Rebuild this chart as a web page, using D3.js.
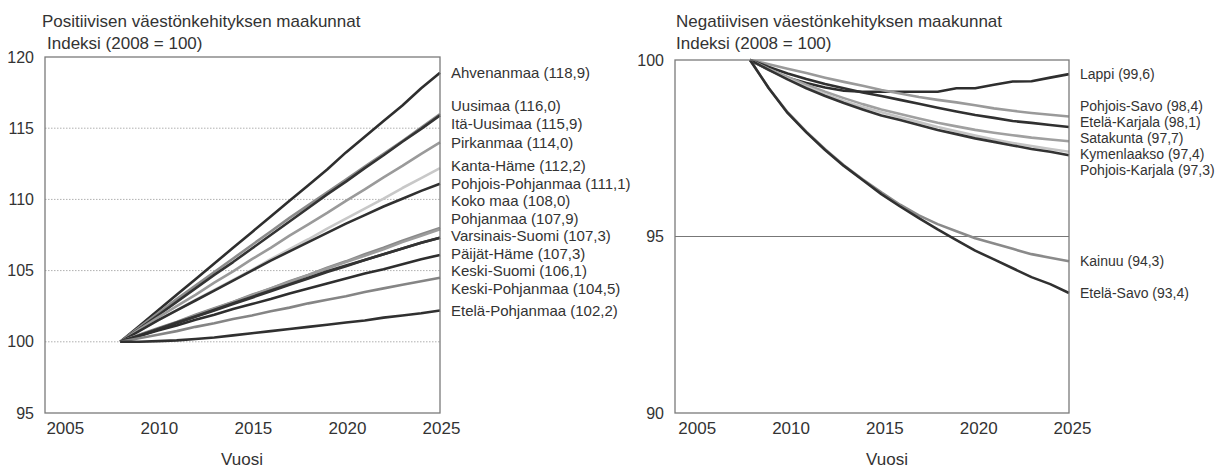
<!DOCTYPE html>
<meta charset="utf-8">
<style>
body { margin: 0; background: #fff; }
svg text { font-family: "Liberation Sans", Arial, sans-serif; fill: #333; }
</style>
<body>
<script src="https://cdn.jsdelivr.net/npm/d3@7"></script>
<script>
// years on the x axis
var years = [2008, 2009, 2010, 2011, 2012, 2013, 2014, 2015, 2016, 2017, 2018, 2019, 2020, 2021, 2022, 2023, 2024, 2025];
var xTicks = [2005, 2010, 2015, 2020, 2025];

// positive panel
var posNames = ["Ahvenanmaa", "Uusimaa", "Itä-Uusimaa", "Pirkanmaa", "Kanta-Häme", "Pohjois-Pohjanmaa",
  "Koko maa", "Pohjanmaa", "Varsinais-Suomi", "Päijät-Häme", "Keski-Suomi", "Keski-Pohjanmaa", "Etelä-Pohjanmaa"];
var ahvenanmaa = [100, 101.1, 102.2, 103.3, 104.4, 105.5, 106.6, 107.7, 108.8, 109.9, 111.0, 112.1, 113.3, 114.4, 115.5, 116.6, 117.8, 118.9];
var uusimaa = [100, 101.0, 102.0, 103.0, 103.95, 104.9, 105.85, 106.8, 107.75, 108.7, 109.6, 110.5, 111.4, 112.3, 113.2, 114.1, 115.05, 116.0];
var itaUusimaa = [100, 100.9, 101.85, 102.8, 103.75, 104.7, 105.6, 106.55, 107.5, 108.45, 109.4, 110.35, 111.25, 112.2, 113.1, 114.05, 114.95, 115.9];
var pirkanmaa = [100, 100.85, 101.7, 102.5, 103.3, 104.15, 104.95, 105.8, 106.6, 107.45, 108.25, 109.05, 109.9, 110.7, 111.55, 112.35, 113.2, 114.0];
var kantaHame = [100, 100.75, 101.5, 102.2, 102.95, 103.65, 104.35, 105.05, 105.8, 106.5, 107.2, 107.95, 108.65, 109.35, 110.05, 110.8, 111.5, 112.2];
var pohjoisPohjanmaa = [100, 100.75, 101.5, 102.2, 102.9, 103.6, 104.3, 105.0, 105.7, 106.35, 107.0, 107.65, 108.3, 108.9, 109.5, 110.05, 110.6, 111.1];
var kokoMaa = [100, 100.5, 100.95, 101.4, 101.9, 102.35, 102.8, 103.3, 103.75, 104.25, 104.7, 105.2, 105.65, 106.15, 106.6, 107.1, 107.55, 108.0];
var pohjanmaa = [100, 100.45, 100.9, 101.35, 101.85, 102.3, 102.8, 103.25, 103.75, 104.2, 104.7, 105.15, 105.6, 106.05, 106.5, 107.0, 107.45, 107.9];
var varsinaisSuomi = [100, 100.45, 100.9, 101.35, 101.8, 102.25, 102.7, 103.15, 103.6, 104.05, 104.5, 104.95, 105.35, 105.75, 106.15, 106.55, 106.95, 107.3];
var paijatHame = [100, 100.4, 100.85, 101.3, 101.75, 102.2, 102.65, 103.1, 103.55, 104.0, 104.45, 104.9, 105.3, 105.75, 106.15, 106.55, 106.95, 107.3];
var keskiSuomi = [100, 100.4, 100.8, 101.15, 101.55, 101.9, 102.3, 102.65, 103.0, 103.4, 103.75, 104.1, 104.45, 104.8, 105.1, 105.45, 105.8, 106.1];
var keskiPohjanmaa = [100, 100.25, 100.5, 100.75, 101.05, 101.3, 101.6, 101.85, 102.15, 102.4, 102.7, 102.95, 103.2, 103.5, 103.75, 104.0, 104.25, 104.5];
var etelaPohjanmaa = [100, 100.0, 100.05, 100.1, 100.2, 100.3, 100.45, 100.6, 100.75, 100.9, 101.05, 101.2, 101.35, 101.5, 101.7, 101.85, 102.0, 102.2];
var posSeries = [ahvenanmaa, uusimaa, itaUusimaa, pirkanmaa, kantaHame, pohjoisPohjanmaa,
  kokoMaa, pohjanmaa, varsinaisSuomi, paijatHame, keskiSuomi, keskiPohjanmaa, etelaPohjanmaa];
var posColors = ["#2e2e2e", "#8c8c8c", "#333", "#9a9a9a", "#c8c8c8", "#303030",
  "#8a8a8a", "#9c9c9c", "#3a3a3a", "#333", "#2e2e2e", "#858585", "#303030"];
var posYTicks = [95, 100, 105, 110, 115, 120];

// negative panel
var negNames = ["Lappi", "Pohjois-Savo", "Etelä-Karjala", "Satakunta", "Kymenlaakso", "Pohjois-Karjala", "Kainuu", "Etelä-Savo"];
var lappi = [100, 99.72, 99.5, 99.35, 99.22, 99.13, 99.1, 99.1, 99.1, 99.1, 99.1, 99.2, 99.2, 99.3, 99.39, 99.4, 99.5, 99.6];
var pohjoisSavo = [100, 99.88, 99.75, 99.63, 99.5, 99.38, 99.27, 99.15, 99.05, 98.95, 98.87, 98.8, 98.72, 98.63, 98.56, 98.5, 98.45, 98.4];
var etelaKarjala = [100, 99.8, 99.62, 99.46, 99.32, 99.2, 99.08, 98.98, 98.87, 98.76, 98.65, 98.54, 98.44, 98.36, 98.27, 98.22, 98.16, 98.1];
var satakunta = [100, 99.75, 99.52, 99.3, 99.1, 98.92, 98.75, 98.6, 98.47, 98.34, 98.22, 98.12, 98.02, 97.94, 97.87, 97.8, 97.75, 97.7];
var kymenlaakso = [100, 99.72, 99.47, 99.24, 99.03, 98.84, 98.67, 98.52, 98.38, 98.24, 98.1, 97.98, 97.86, 97.75, 97.65, 97.56, 97.48, 97.4];
var pohjoisKarjala = [100, 99.72, 99.45, 99.2, 98.98, 98.78, 98.6, 98.43, 98.3, 98.16, 98.02, 97.9, 97.78, 97.68, 97.58, 97.48, 97.4, 97.3];
var kainuu = [100, 99.2, 98.52, 97.97, 97.47, 97.02, 96.62, 96.25, 95.9, 95.6, 95.35, 95.15, 94.95, 94.8, 94.65, 94.5, 94.4, 94.3];
var etelaSavo = [100, 99.2, 98.5, 97.95, 97.45, 97.0, 96.6, 96.2, 95.85, 95.52, 95.2, 94.9, 94.6, 94.35, 94.1, 93.85, 93.65, 93.4];
var negSeries = [lappi, pohjoisSavo, etelaKarjala, satakunta, kymenlaakso, pohjoisKarjala, kainuu, etelaSavo];
var negColors = ["#2e2e2e", "#9a9a9a", "#303030", "#a0a0a0", "#c4c4c4", "#333", "#8a8a8a", "#303030"];
var negYTicks = [90, 95, 100];

var svg = d3.select("body").append("svg")
    .attr("width", 1218)
    .attr("height", 470);

var fmt = function(v) { return d3.format(".1f")(v).replace(".", ","); };

function drawPanel(p) {
  var x = d3.scaleLinear().domain([2004, 2025]).range([p.left, p.right]);
  var y = d3.scaleLinear().domain(p.yDomain).range([p.bottom, p.top]);
  var g = svg.append("g");

  // titles
  g.append("text").attr("x", p.titleX).attr("y", 27).style("font-size", "17px").text(p.title);
  g.append("text").attr("x", p.titleX + p.subDx).attr("y", 49).style("font-size", "17px").text("Indeksi (2008 = 100)");

  // grid lines
  g.selectAll(".grid").data(p.grid).enter().append("line")
    .attr("x1", p.left).attr("x2", p.right)
    .attr("y1", function(d) { return y(d); }).attr("y2", function(d) { return y(d); })
    .attr("stroke", p.gridColor).attr("stroke-width", 1)
    .attr("stroke-dasharray", p.gridDash);

  // y axis labels
  var ya = g.append("g").attr("transform", "translate(" + p.left + ",0)")
    .call(d3.axisLeft(y).tickValues(p.yTicks).tickSize(0).tickPadding(11));
  ya.select(".domain").remove();
  ya.selectAll("text").style("font-size", "16px").attr("fill", "#333");

  // x axis labels
  var xa = g.append("g").attr("transform", "translate(0," + p.bottom + ")")
    .call(d3.axisBottom(x).tickValues(xTicks).tickFormat(d3.format("d")).tickSize(0).tickPadding(9));
  xa.select(".domain").remove();
  xa.selectAll("text").style("font-size", "17px").attr("fill", "#333").attr("dx", p.xLabelDx);

  g.append("text").attr("x", p.vuosiX).attr("y", p.bottom + 52)
    .attr("text-anchor", "middle").style("font-size", "17px").text("Vuosi");

  // lines
  var line = d3.line()
    .x(function(d, i) { return x(years[i]); })
    .y(function(d) { return y(d); });
  g.selectAll(".serie").data(p.series).enter().append("path")
    .attr("d", line)
    .attr("fill", "none")
    .attr("stroke", function(d, i) { return p.colors[i]; })
    .attr("stroke-width", 2.6)
    .attr("stroke-linejoin", "round");

  // frame
  g.append("rect")
    .attr("x", p.left).attr("y", p.top)
    .attr("width", p.right - p.left).attr("height", p.bottom - p.top)
    .attr("fill", "none").attr("stroke", "#7a7a7a").attr("stroke-width", 1.3);

  // end labels, spread so they don't overlap
  var labs = p.series.map(function(s, i) {
    return { name: p.names[i], v: s[s.length - 1], target: y(s[s.length - 1]) };
  });
  labs.sort(function(a, b) { return a.target - b.target; });
  var clusters = labs.map(function(l) { return { items: [l], mean: l.target }; });
  var merged = true;
  while (merged) {
    merged = false;
    for (var i = 0; i < clusters.length - 1; i++) {
      var a = clusters[i], b = clusters[i + 1];
      var aEnd = a.mean + (a.items.length - 1) * p.gap / 2;
      var bStart = b.mean - (b.items.length - 1) * p.gap / 2;
      if (bStart - aEnd < p.gap) {
        var items = a.items.concat(b.items);
        clusters.splice(i, 2, { items: items, mean: d3.mean(items, function(d) { return d.target; }) });
        merged = true;
        break;
      }
    }
  }
  clusters.forEach(function(c) {
    var start = c.mean - (c.items.length - 1) * p.gap / 2;
    c.items.forEach(function(l, j) { l.pos = start + j * p.gap; });
  });

  g.selectAll(".lab").data(labs).enter().append("text")
    .attr("x", p.right + 11)
    .attr("y", function(d) { return d.pos; })
    .attr("dy", "0.35em")
    .style("font-size", p.labelSize)
    .text(function(d) { return d.name + " (" + fmt(d.v) + ")"; });
}

drawPanel({
  left: 45, right: 440, top: 57, bottom: 413,
  yDomain: [95, 120], yTicks: posYTicks, grid: [100, 105, 110, 115],
  gridColor: "#b0b0b0", gridDash: "1.5,1.5",
  title: "Positiivisen väestönkehityksen maakunnat", titleX: 42, subDx: 5,
  xLabelDx: 1, vuosiX: 242, gap: 17.5, labelSize: "15px",
  names: posNames, series: posSeries, colors: posColors
});

drawPanel({
  left: 675, right: 1069, top: 60, bottom: 413,
  yDomain: [90, 100], yTicks: negYTicks, grid: [95],
  gridColor: "#777", gridDash: null,
  title: "Negatiivisen väestönkehityksen maakunnat", titleX: 676, subDx: 0,
  xLabelDx: 3, vuosiX: 887, gap: 16, labelSize: "14px",
  names: negNames, series: negSeries, colors: negColors
});
</script>
</body>
